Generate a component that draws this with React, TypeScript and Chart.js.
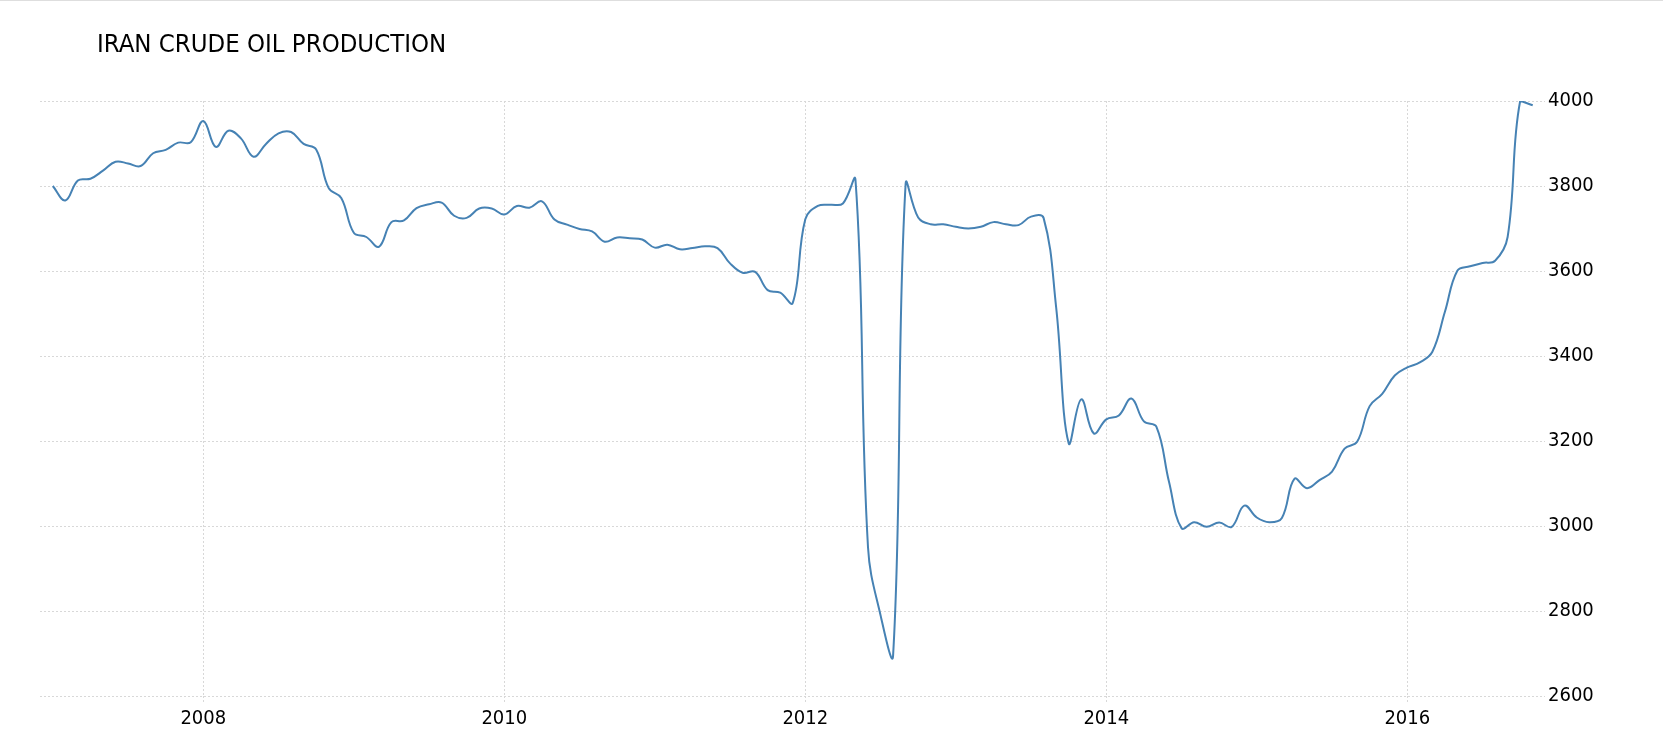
import React, { useEffect, useRef } from "react";
import { Chart, registerables } from "chart.js";

Chart.register(...registerables);

const TITLE = "IRAN CRUDE OIL PRODUCTION";
const START_YEAR = 2007; // first value = Jan 2007, monthly
// Monthly crude oil production (thousand barrels/day), Jan 2007 .. Nov 2016
const production2007 = [3800, 3766, 3813, 3817, 3836, 3857, 3853, 3847, 3877, 3885, 3902, 3903];
const production2008 = [3953, 3892, 3930, 3912, 3869, 3899, 3924, 3927, 3899, 3886, 3795, 3772];
const production2009 = [3690, 3680, 3657, 3715, 3719, 3748, 3757, 3761, 3730, 3725, 3747, 3747];
const production2010 = [3733, 3753, 3749, 3764, 3721, 3709, 3699, 3693, 3669, 3679, 3677, 3674];
const production2011 = [3655, 3662, 3651, 3654, 3658, 3654, 3618, 3596, 3598, 3555, 3549, 3525];
const production2012 = [3722, 3753, 3756, 3759, 3815, 2950, 2790, 2695, 3805, 3726, 3710, 3710];
const production2013 = [3704, 3700, 3704, 3715, 3710, 3708, 3728, 3725, 3515, 3195, 3298, 3218];
const production2014 = [3251, 3260, 3300, 3246, 3233, 3104, 2995, 3009, 2998, 3008, 2998, 3048];
const production2015 = [3020, 3009, 3019, 3111, 3089, 3108, 3128, 3182, 3198, 3282, 3311, 3354];
const production2016 = [3373, 3385, 3410, 3504, 3601, 3611, 3619, 3624, 3680, 4000, 3990];

const productionValues = [
  ...production2007, ...production2008, ...production2009, ...production2010, ...production2011,
  ...production2012, ...production2013, ...production2014, ...production2015, ...production2016,
];

const xTickMonths = [12, 36, 60, 84, 108]; // Jan 2008, 2010, 2012, 2014, 2016
const Y_MIN = 2600;
const Y_MAX = 4000;
const Y_STEP = 200;

const FONT = '"DejaVu Sans Condensed", "DejaVu Sans", sans-serif';

const titlePlugin = {
  id: "titleText",
  afterDraw(chart: any) {
    const ctx = chart.ctx;
    ctx.save();
    ctx.font = `25.5px ${FONT}`;
    ctx.fillStyle = "#000";
    ctx.textBaseline = "middle";
    ctx.textAlign = "left";
    ctx.fillText(TITLE, 97, 45);
    ctx.restore();
  },
};

export default function App() {
  const canvasRef = useRef<HTMLCanvasElement | null>(null);

  useEffect(() => {
    if (!canvasRef.current) return;
    const chart = new Chart(canvasRef.current, {
      type: "line",
      data: {
        datasets: [
          {
            data: productionValues.map((v, i) => ({ x: i, y: v })),
            borderColor: "#4682b4",
            borderWidth: 2,
            pointRadius: 0,
            tension: 0.4,
            fill: false,
          },
        ],
      },
      options: {
        animation: false,
        responsive: false,
        maintainAspectRatio: false,
        layout: { padding: { left: 40, right: 68, top: 101, bottom: 18 } },
        plugins: { legend: { display: false }, tooltip: { enabled: false }, title: { display: false } },
        scales: {
          x: {
            type: "linear",
            min: -1.02,
            max: 118.98,
            afterBuildTicks: (axis: any) => {
              axis.ticks = xTickMonths.map((v) => ({ value: v }));
            },
            ticks: {
              autoSkip: false,
              maxRotation: 0,
              padding: 3,
              color: "#000",
              font: { family: FONT, size: 20 },
              callback: (v: any) => String(START_YEAR + Math.round(Number(v) / 12)),
            },
            grid: {
              color: "#d8d8d8",
              lineWidth: 1,
              drawTicks: true,
              tickLength: 8,
              tickColor: "#d8d8d8",
              tickBorderDash: [2, 2],
            },
            border: { display: false, dash: [2, 2] },
          },
          y: {
            position: "right",
            min: Y_MIN,
            max: Y_MAX,
            afterFit: (axis: any) => {
              axis.width = 50;
            },
            ticks: {
              stepSize: Y_STEP,
              padding: 3,
              color: "#000",
              font: { family: FONT, size: 20 },
              callback: (v: any) => String(v),
            },
            grid: {
              color: "#d8d8d8",
              lineWidth: 1,
              drawTicks: false,
            },
            border: { display: false, dash: [2, 2] },
          },
        },
      } as any,
      plugins: [titlePlugin],
    });
    return () => chart.destroy();
  }, []);

  return (
    <div style={{ position: "fixed", left: 0, top: 0, width: 1663, height: 752, background: "#fff" }}>
      <canvas ref={canvasRef} width={1663} height={752} style={{ display: "block" }} />
      <div style={{ position: "absolute", left: 0, top: 0, width: 1663, height: 1, background: "#dedede" }} />
    </div>
  );
}
